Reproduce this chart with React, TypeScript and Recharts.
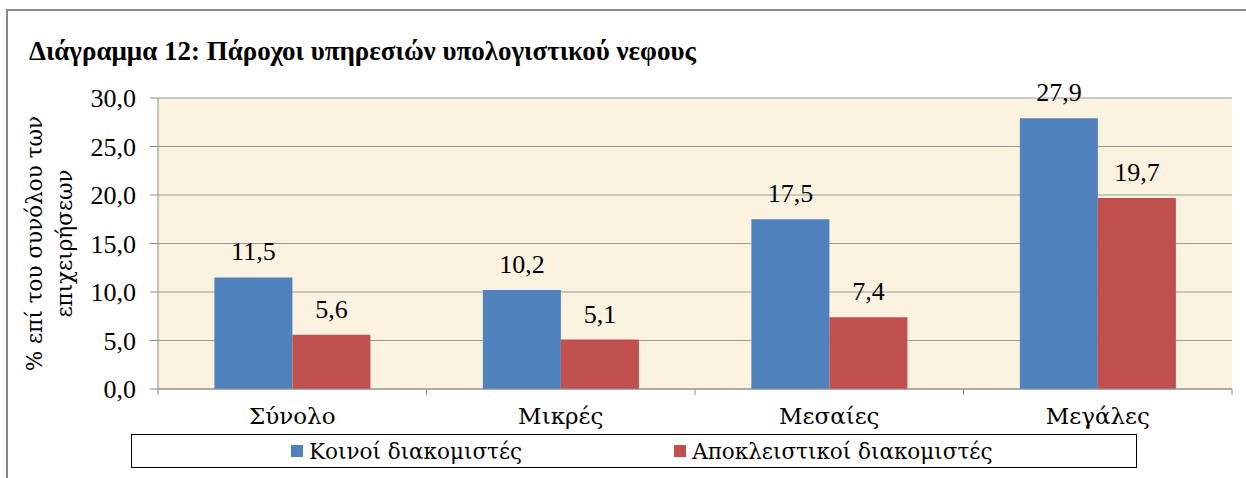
import { BarChart, Bar, XAxis, YAxis, CartesianGrid, Legend, LabelList } from 'recharts'

const categories = ['Σύνολο', 'Μικρές', 'Μεσαίες', 'Μεγάλες']
const sharedServers = [11.5, 10.2, 17.5, 27.9]
const dedicatedServers = [5.6, 5.1, 7.4, 19.7]
const yTicks = [0, 5, 10, 15, 20, 25, 30]

const seriesNames = ['Κοινοί διακομιστές', 'Αποκλειστικοί διακομιστές']
const colors = ['#4F81BD', '#C0504D']

const data = categories.map((name, i) => ({
  name,
  shared: sharedServers[i],
  dedicated: dedicatedServers[i],
}))

const W = 1246
const H = 478
const M = { top: 98, right: 14, bottom: 0, left: 0 }
const X_H = 89
const Y_W = 158
const BAND = (W - Y_W - M.right) / categories.length
const FONT = '"Liberation Serif", "Times New Roman", serif'
// greek text in regular weight falls back to a sans face with Liberation Serif here
const GREEK = '"DejaVu Serif", serif'
const FS = 26

const fmt = (v: any) => Number(v).toFixed(1).replace('.', ',')

function CategoryTick(props: any) {
  const { x, y, payload, index } = props
  return (
    <g>
      <line x1={x - BAND / 2} x2={x - BAND / 2} y1={y} y2={y + 6} stroke="#8c8c8c" />
      {index === categories.length - 1 && (
        <line x1={x + BAND / 2} x2={x + BAND / 2} y1={y} y2={y + 6} stroke="#8c8c8c" />
      )}
      <text x={x} y={y + 35} textAnchor="middle" fontSize={23} fontFamily={GREEK} fill="#000">
        {payload.value}
      </text>
    </g>
  )
}

function YTitle(props: any) {
  const { viewBox } = props
  const cy = viewBox.y + viewBox.height / 2
  return (
    <text transform={`translate(0, ${cy}) rotate(-90)`} textAnchor="middle" fontSize={21.5} fontFamily={GREEK} fill="#000">
      <tspan x={0} y={42}>% επί του συνόλου των</tspan>
      <tspan x={0} y={72}>επιχειρήσεων</tspan>
    </text>
  )
}

function LegendBox() {
  return (
    <div
      style={{
        boxSizing: 'border-box',
        width: '100%',
        height: '100%',
        border: '1px solid #000',
        display: 'flex',
        alignItems: 'center',
        paddingLeft: 159,
        fontFamily: GREEK,
        fontSize: 21.5,
        color: '#000',
      }}
    >
      {seriesNames.map((n, i) => (
        <div key={n} style={{ display: 'flex', alignItems: 'center', marginRight: i === 0 ? 152 : 0 }}>
          <span style={{ width: 12, height: 12, background: colors[i], marginRight: 6, display: 'inline-block' }} />
          <span>{n}</span>
        </div>
      ))}
    </div>
  )
}

export default function App() {
  return (
    <div style={{ position: 'absolute', left: 0, top: 0, width: W, height: H, background: '#fff', overflow: 'hidden' }}>
      <div
        style={{
          position: 'absolute',
          left: 6,
          top: 9,
          width: 1400,
          height: 700,
          borderLeft: '2px solid #8a8a8a',
          borderTop: '2px solid #8a8a8a',
        }}
      />
      <div
        style={{
          position: 'absolute',
          left: 29,
          top: 36,
          fontFamily: FONT,
          fontWeight: 'bold',
          fontSize: 27,
          whiteSpace: 'nowrap',
          color: '#000',
        }}
      >
        Διάγραμμα 12: Πάροχοι υπηρεσιών υπολογιστικού νεφους
      </div>
      <div style={{ position: 'absolute', left: 0, top: 0 }}>
        <BarChart width={W} height={H} data={data} margin={M} barCategoryGap="21%" barGap={0}>
          <CartesianGrid vertical={false} stroke="#9a9a9a" fill="#FBF3E0" />
          <XAxis
            dataKey="name"
            height={X_H}
            axisLine={{ stroke: '#8c8c8c' }}
            tickLine={false}
            tickSize={0}
            tickMargin={0}
            tick={<CategoryTick />}
            interval={0}
          />
          <YAxis
            width={Y_W}
            domain={[0, 30]}
            ticks={yTicks}
            tickFormatter={fmt}
            axisLine={{ stroke: '#8c8c8c' }}
            tickLine={{ stroke: '#8c8c8c' }}
            tickSize={8}
            tickMargin={14}
            tick={{ fontSize: FS, fontFamily: FONT, fill: '#000' }}
            label={<YTitle />}
          />
          <Legend
            layout="horizontal"
            verticalAlign="middle"
            align="center"
            wrapperStyle={{ left: 131, top: 434, width: 1006, height: 34 }}
            content={<LegendBox />}
          />
          <Bar dataKey="shared" name={seriesNames[0]} fill={colors[0]} isAnimationActive={false}>
            <LabelList dataKey="shared" position="top" offset={17} formatter={fmt} fontSize={FS} fontFamily={FONT} fill="#000" />
          </Bar>
          <Bar dataKey="dedicated" name={seriesNames[1]} fill={colors[1]} isAnimationActive={false}>
            <LabelList dataKey="dedicated" position="top" offset={17} formatter={fmt} fontSize={FS} fontFamily={FONT} fill="#000" />
          </Bar>
        </BarChart>
      </div>
    </div>
  )
}
